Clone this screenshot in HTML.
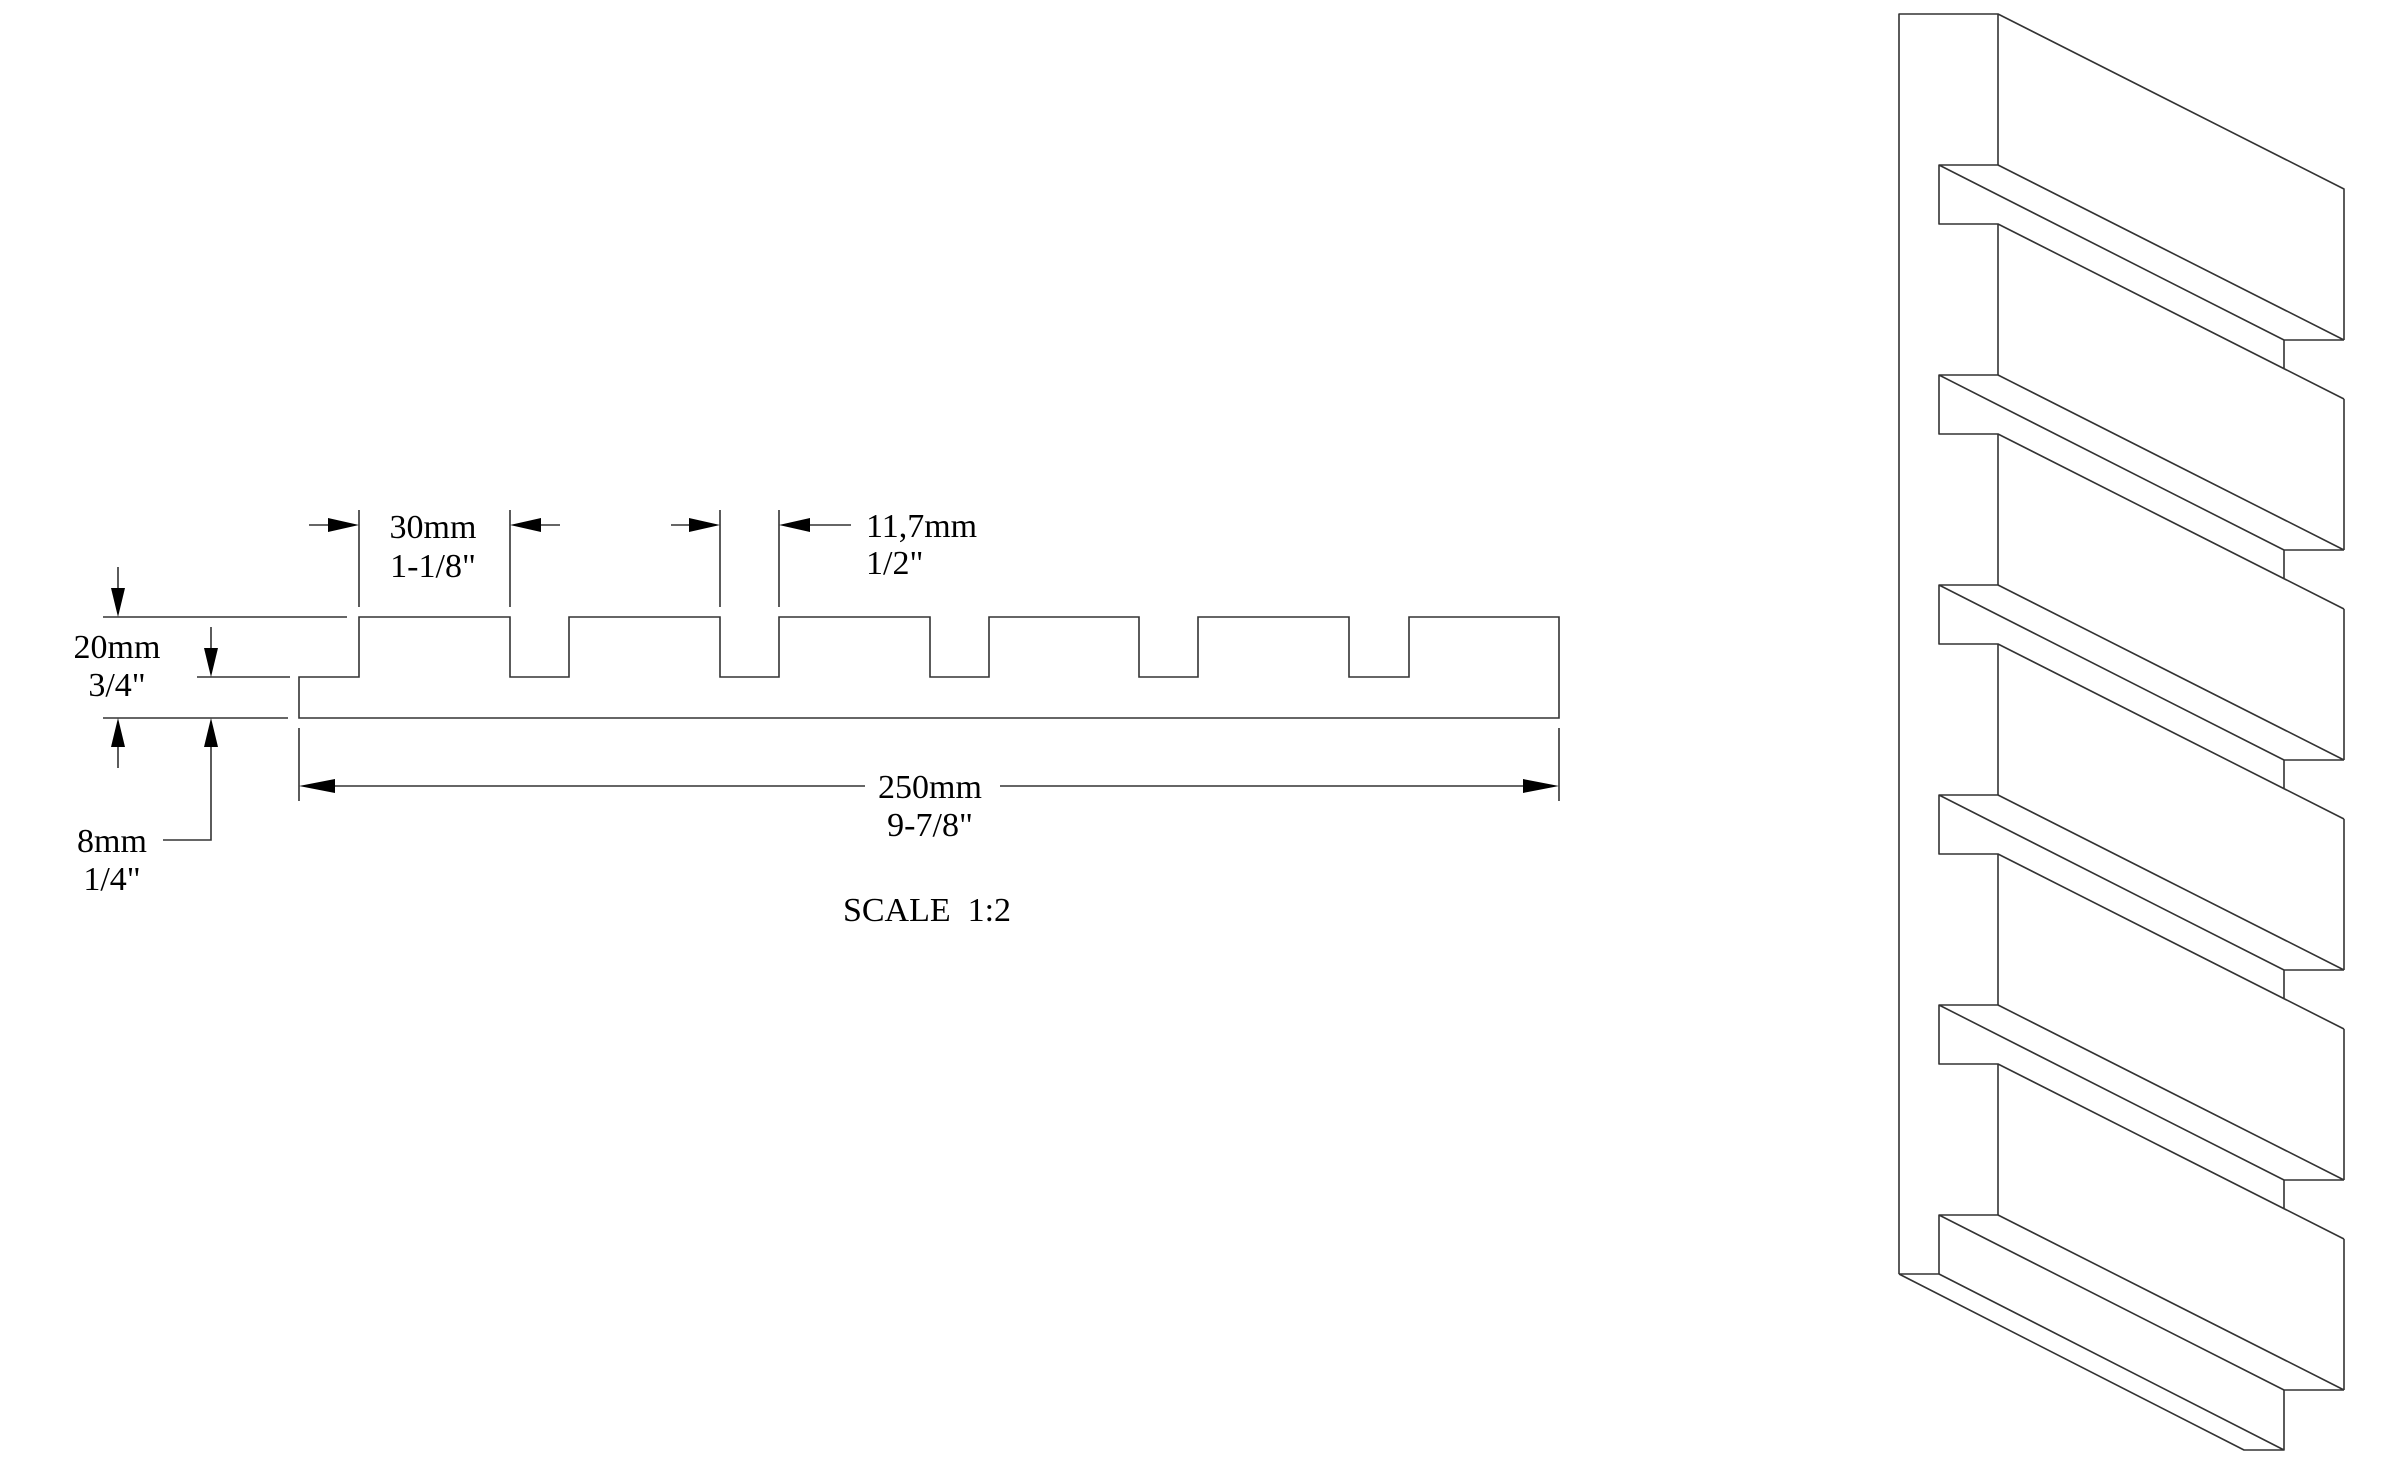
<!DOCTYPE html>
<html><head><style>
html,body{margin:0;padding:0;background:#fff;}
svg{display:block;}
text{font-family:"Liberation Serif",serif;font-size:34px;fill:#000;}
</style></head><body>
<svg width="2382" height="1464" viewBox="0 0 2382 1464" xmlns="http://www.w3.org/2000/svg">
<g stroke="#333" stroke-width="1.6" fill="none">
<!-- profile -->
<path d="M299,718 V677 H359 V617 H510 V677 H569 V617 H720 V677 H779 V617 H930 V677 H989 V617 H1139 V677 H1198 V617 H1349 V677 H1409 V617 H1559 V718 Z"/>
<!-- left dims extension -->
<path d="M103,617 H347 M197,677 H290 M103,718 H288"/>
<path d="M118,567 V590 M118,745 V768 M211,627 V650 M211,745 V840 H163"/>
<!-- bottom dim -->
<path d="M299,728 V801 M1559,728 V801 M330,786 H865 M1000,786 H1530"/>
<!-- top dims -->
<path d="M359,510 V607 M510,510 V607 M720,510 V607 M779,510 V607"/>
<path d="M309,525 H335 M535,525 H560 M671,525 H695 M805,525 H851"/>
</g>
<g fill="#000">
<polygon points="118,617 111,588 125,588"/>
<polygon points="118,718 111,747 125,747"/>
<polygon points="211,677 204,648 218,648"/>
<polygon points="211,718 204,747 218,747"/>
<polygon points="299,786 335,779 335,793"/>
<polygon points="1559,786 1523,779 1523,793"/>
<polygon points="359,525 328,518 328,532"/>
<polygon points="510,525 541,518 541,532"/>
<polygon points="720,525 689,518 689,532"/>
<polygon points="779,525 810,518 810,532"/>
</g>
<text x="433" y="538" text-anchor="middle">30mm</text>
<text x="433" y="577" text-anchor="middle">1-1/8"</text>
<text x="866" y="537">11,7mm</text>
<text x="866" y="574">1/2"</text>
<text x="117" y="658" text-anchor="middle">20mm</text>
<text x="117" y="696" text-anchor="middle">3/4"</text>
<text x="112" y="852" text-anchor="middle">8mm</text>
<text x="112" y="890" text-anchor="middle">1/4"</text>
<text x="930" y="798" text-anchor="middle">250mm</text>
<text x="930" y="836" text-anchor="middle">9-7/8"</text>
<text x="927" y="921" text-anchor="middle">SCALE&#160; 1:2</text>
<!-- iso view -->
<g stroke="#333" stroke-width="1.6" fill="none" stroke-linejoin="round">
<path d="M1899,1274 V14 H1998 V165 M1998,14 L2344,189 V340"/>
<path d="M1998,224 V375 M1998,434 V585 M1998,644 V795 M1998,854 V1005 M1998,1064 V1215"/>
<path d="M1998,165 H1939 V224 H1998 L2344,399 M1939,165 L2284,340 V369 M1998,165 L2344,340 M2284,340 H2344"/>
<path d="M1998,375 H1939 V434 H1998 L2344,609 M1939,375 L2284,550 V579 M1998,375 L2344,550 M2284,550 H2344 M2344,399 V550"/>
<path d="M1998,585 H1939 V644 H1998 L2344,819 M1939,585 L2284,760 V789 M1998,585 L2344,760 M2284,760 H2344 M2344,609 V760"/>
<path d="M1998,795 H1939 V854 H1998 L2344,1029 M1939,795 L2284,970 V999 M1998,795 L2344,970 M2284,970 H2344 M2344,819 V970"/>
<path d="M1998,1005 H1939 V1064 H1998 L2344,1239 M1939,1005 L2284,1180 V1209 M1998,1005 L2344,1180 M2284,1180 H2344 M2344,1029 V1180"/>
<path d="M1998,1215 H1939 V1274 H1899 M1939,1215 L2284,1390 M1998,1215 L2344,1390 M2284,1390 H2344 M2344,1239 V1390"/>
<path d="M1899,1274 L2244,1450 H2284 V1390 M1939,1274 L2284,1450"/>
</g>
</svg>
</body></html>
